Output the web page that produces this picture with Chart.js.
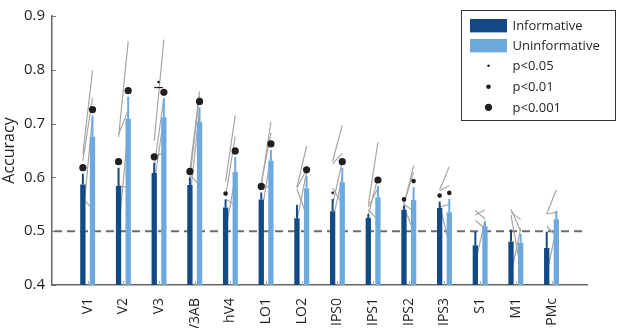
<!DOCTYPE html>
<html><head><meta charset="utf-8">
<script src="https://cdn.jsdelivr.net/npm/chart.js@4.4.0/dist/chart.umd.min.js"></script>
<style>html,body{margin:0;padding:0;background:#fff;}#wrap{width:617px;height:328px;}</style>
</head><body><div id="wrap"><canvas id="c" width="617" height="328"></canvas></div>
<script>
const categories = ['V1','V2','V3','V3AB','hV4','LO1','LO2','IPS0','IPS1','IPS2','IPS3','S1','M1','PMc'];
const informative = [0.587,0.584,0.608,0.586,0.544,0.559,0.524,0.537,0.525,0.540,0.543,0.474,0.481,0.469];
const uninformative = [0.676,0.709,0.712,0.703,0.610,0.631,0.580,0.591,0.563,0.558,0.535,0.509,0.479,0.522];
const informativeErrTop = [0.607,0.618,0.627,0.600,0.559,0.572,0.549,0.560,0.532,0.548,0.555,0.499,0.503,0.499];
const uninformativeErrTop = [0.715,0.750,0.747,0.730,0.638,0.651,0.603,0.618,0.584,0.582,0.560,0.518,0.495,0.538];
// significance vs chance: 0 none, 1 p<0.05, 2 p<0.01, 3 p<0.001
const informativeSig = [3,3,3,3,2,3,0,1,0,2,2,0,0,0];
const uninformativeSig = [3,3,3,3,3,3,3,3,3,2,2,0,0,0];
// significance of difference between conditions (level, bar value)
const differenceSig = [0,0,1,0,0,0,0,0,0,0,0,0,0,0];
const differenceLevel = [null,null,0.767,null,null,null,null,null,null,null,null,null,null,null];
// individual subjects (informative -> uninformative)
const subjectsInformative = [
  [0.643,0.631,0.525,0.560],
  [0.675,0.680,0.585,0.500],
  [0.668,0.640,0.590,0.620],
  [0.612,0.600,0.560,0.605],
  [0.592,0.565,0.560,0.500],
  [0.585,0.590,0.590,0.530],
  [0.582,0.580,0.578,0.520],
  [0.630,0.625,0.550,0.520,0.580],
  [0.550,0.545,0.540,0.530],
  [0.550,0.552,0.550,0.545],
  [0.577,0.575,0.545,0.550],
  [0.538,0.530,0.520,0.440],
  [0.541,0.535,0.530,0.420],
  [0.532,0.532,0.510,0.420]
];
const subjectsUninformative = [
  [0.799,0.748,0.712,0.542],
  [0.853,0.725,0.580,0.690],
  [0.856,0.645,0.710,0.748],
  [0.760,0.752,0.725,0.585],
  [0.715,0.676,0.548,0.600],
  [0.703,0.683,0.578,0.640],
  [0.658,0.615,0.530,0.610],
  [0.697,0.645,0.630,0.600,0.550],
  [0.665,0.580,0.520,0.600],
  [0.622,0.610,0.537,0.500],
  [0.620,0.585,0.550,0.475],
  [0.523,0.540,0.505,0.520],
  [0.500,0.522,0.430,0.505],
  [0.577,0.535,0.490,0.505]
];
const chanceLevel = 0.5;
const yTicks = [0.4,0.5,0.6,0.7,0.8,0.9];
const legendLabels = ['Informative','Uninformative','p<0.05','p<0.01','p<0.001'];

const DARK = '#124a86';
const LIGHT = '#6ea9de';
const FONT = "'Open Sans', sans-serif";
const DOT_R = [0, 1.3, 2.3, 3.6];

const overlay = {
  id: 'overlay',
  beforeDatasetsDraw(chart) {
    const ctx = chart.ctx, ys = chart.scales.y, a = chart.chartArea;
    const m0 = chart.getDatasetMeta(0), m1 = chart.getDatasetMeta(1);
    ctx.save();
    ctx.beginPath(); ctx.rect(a.left, a.top, a.right - a.left, a.bottom - a.top); ctx.clip();
    ctx.strokeStyle = '#6b6b6b'; ctx.lineWidth = 2; ctx.setLineDash([8, 5]);
    ctx.beginPath();
    ctx.moveTo(a.left + 2, ys.getPixelForValue(chanceLevel));
    ctx.lineTo(a.right, ys.getPixelForValue(chanceLevel));
    ctx.stroke();
    ctx.setLineDash([]);
    ctx.strokeStyle = '#a6a6a6'; ctx.lineWidth = 1.2;
    categories.forEach((c, i) => {
      const xa = m0.data[i].x, xb = m1.data[i].x;
      subjectsInformative[i].forEach((v, s) => {
        ctx.beginPath();
        ctx.moveTo(xa, ys.getPixelForValue(v));
        ctx.lineTo(xb, ys.getPixelForValue(subjectsUninformative[i][s]));
        ctx.stroke();
      });
    });
    ctx.restore();
  },
  afterDatasetsDraw(chart) {
    const ctx = chart.ctx, ys = chart.scales.y, xs = chart.scales.x, a = chart.chartArea;
    const m0 = chart.getDatasetMeta(0), m1 = chart.getDatasetMeta(1);
    ctx.save();
    const drawErr = (meta, means, tops, sigs, color) => {
      categories.forEach((c, i) => {
        const x = meta.data[i].x;
        const yt = ys.getPixelForValue(tops[i]);
        ctx.strokeStyle = color; ctx.lineWidth = 2;
        ctx.beginPath(); ctx.moveTo(x, ys.getPixelForValue(means[i])); ctx.lineTo(x, yt); ctx.stroke();
        if (sigs[i] > 0) {
          ctx.fillStyle = '#231f20';
          ctx.beginPath(); ctx.arc(x, yt - 6, DOT_R[sigs[i]], 0, Math.PI * 2); ctx.fill();
        }
      });
    };
    drawErr(m0, informative, informativeErrTop, informativeSig, DARK);
    drawErr(m1, uninformative, uninformativeErrTop, uninformativeSig, LIGHT);
    categories.forEach((c, i) => {
      if (differenceSig[i] > 0) {
        const xa = m0.data[i].x, xb = m1.data[i].x;
        const yy = ys.getPixelForValue(differenceLevel[i]);
        ctx.strokeStyle = '#231f20'; ctx.lineWidth = 1.2;
        ctx.beginPath(); ctx.moveTo(xa, yy); ctx.lineTo(xb - 1, yy); ctx.stroke();
        ctx.fillStyle = '#231f20';
        ctx.beginPath(); ctx.arc((xa + xb - 1) / 2, yy - 5.5, DOT_R[differenceSig[i]], 0, Math.PI * 2); ctx.fill();
      }
    });
    ctx.strokeStyle = '#777'; ctx.lineWidth = 1;
    yTicks.forEach(v => {
      const y = Math.round(ys.getPixelForValue(v)) + 0.5;
      ctx.beginPath(); ctx.moveTo(a.left, y); ctx.lineTo(a.left + 4, y); ctx.stroke();
    });
    ctx.strokeStyle = '#aaa';
    categories.forEach((c, i) => {
      const x = Math.round(xs.getPixelForValue(i + 1)) + 0.5;
      ctx.beginPath(); ctx.moveTo(x, a.bottom); ctx.lineTo(x, a.bottom - 4); ctx.stroke();
    });
    const bx = 461.5, by = 10.5, bw = 154, bh = 110;
    ctx.fillStyle = '#fff'; ctx.fillRect(bx, by, bw, bh);
    ctx.strokeStyle = '#333'; ctx.lineWidth = 1; ctx.strokeRect(bx, by, bw, bh);
    const rows = [25.7, 45.7, 65.7, 86.7, 107.3];
    ctx.font = '13px ' + FONT; ctx.textBaseline = 'middle'; ctx.textAlign = 'left';
    legendLabels.forEach((t, k) => {
      const ry = rows[k];
      if (k === 0 || k === 1) {
        ctx.fillStyle = k === 0 ? DARK : LIGHT;
        ctx.fillRect(470, ry - 6.7, 37, 13.4);
      } else {
        ctx.fillStyle = '#231f20';
        ctx.beginPath(); ctx.arc(488.5, ry, DOT_R[k - 1], 0, Math.PI * 2); ctx.fill();
      }
      ctx.fillStyle = '#231f20';
      ctx.fillText(t, 512.5, ry + 0.5);
    });
    ctx.restore();
  }
};

new Chart(document.getElementById('c'), {
  type: 'bar',
  data: {
    datasets: [
      { label: 'Informative', data: informative.map((v, i) => ({ x: i + 1, y: v })), backgroundColor: DARK, borderWidth: 0 },
      { label: 'Uninformative', data: uninformative.map((v, i) => ({ x: i + 1, y: v })), backgroundColor: LIGHT, borderWidth: 0 }
    ]
  },
  options: {
    responsive: false, animation: false,
    categoryPercentage: 0.54, barPercentage: 0.55,
    layout: { padding: { top: 7, right: 10, left: 0, bottom: 0 } },
    plugins: { legend: { display: false }, tooltip: { enabled: false } },
    scales: {
      x: {
        type: 'linear', min: 0, max: 15, offset: false,
        grid: { display: false, drawTicks: false },
        border: { display: true, color: '#666', width: 1.5 },
        ticks: {
          stepSize: 1, autoSkip: false, maxRotation: 90, minRotation: 90,
          callback: v => categories[v - 1] || '',
          font: { family: FONT, size: 14 }, color: '#231f20', padding: 13
        },
        afterFit: s => { s.height = 43; }
      },
      y: {
        min: 0.4, max: 0.9,
        grid: { display: false, drawTicks: false },
        border: { display: true, color: '#666', width: 1.5 },
        ticks: { stepSize: 0.1, callback: v => v.toFixed(1), font: { family: FONT, size: 15 }, color: '#231f20', padding: 7 },
        title: { display: true, text: 'Accuracy', font: { family: FONT, size: 16 }, color: '#231f20', padding: 0 },
        afterFit: s => { s.width = 52; }
      }
    }
  },
  plugins: [overlay]
});
</script>
</body></html>
